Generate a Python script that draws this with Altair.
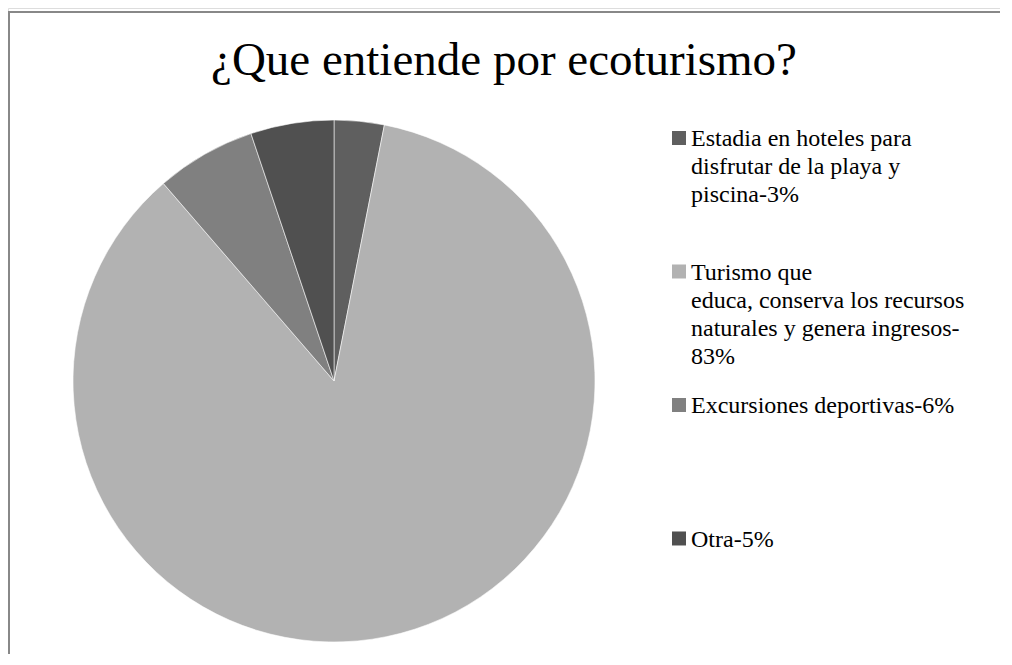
import altair as alt
import pandas as pd

title_text = "¿Que entiende por ecoturismo?"
categories = [
    "Estadia en hoteles para\ndisfrutar de la playa y\npiscina-3%",
    "Turismo que\neduca, conserva los recursos\nnaturales y genera ingresos-\n83%",
    "Excursiones deportivas-6%",
    "Otra-5%",
]
values = [3, 83, 6, 5]
slice_order = [0, 1, 2, 3]
colors = ["#5f5f5f", "#b2b2b2", "#808080", "#505050"]

df = pd.DataFrame({"categoria": categories, "valor": values, "orden": slice_order})
frame_df = pd.DataFrame({"k": [0]})

W, H = 992, 646

pie = alt.Chart(df).mark_arc(radius=261, stroke="white", strokeWidth=0.8, strokeOpacity=0.7).encode(
    theta=alt.Theta("valor:Q", stack=True),
    order=alt.Order("orden:Q"),
    color=alt.Color(
        "categoria:N",
        scale=alt.Scale(domain=categories, range=colors),
        sort=categories,
        legend=alt.Legend(
            title=None,
            orient="none",
            legendX=654,
            legendY=102,
            padding=5,
            symbolType="M-1,0.57H1V2.57H-1Z",
            symbolSize=196,
            symbolStrokeWidth=0,
            labelFont="Liberation Serif",
            labelFontSize=24,
            labelColor="black",
            labelOffset=0,
            labelLimit=400,
            labelBaseline="top",
            rowPadding=13.5,
            labelExpr="slice(split(datum.label + '\\n\\n\\n', '\\n'), 0, 4)",
        ),
    ),
    x=alt.value(326),
    y=alt.value(373),
)

top_rule = alt.Chart(frame_df).mark_rule(color="#888888", strokeWidth=2).encode(
    x=alt.value(0), x2=alt.value(W), y=alt.value(4)
)
left_rule = alt.Chart(frame_df).mark_rule(color="#888888", strokeWidth=2).encode(
    x=alt.value(1), y=alt.value(3), y2=alt.value(H)
)

chart = alt.layer(pie, top_rule, left_rule).properties(
    width=W,
    height=H,
    autosize=alt.AutoSizeParams(type="none"),
    padding=0,
    title=alt.TitleParams(
        title_text,
        font="Liberation Serif",
        fontSize=47,
        fontWeight="normal",
        color="black",
        anchor="middle",
        frame="group",
        baseline="alphabetic",
        offset=0,
        dy=114,
    ),
).configure_view(stroke=None).configure(style={"guide-label": {"lineHeight": 28}})

chart.save("out.html", embed_options={"renderer": "svg", "actions": False})
